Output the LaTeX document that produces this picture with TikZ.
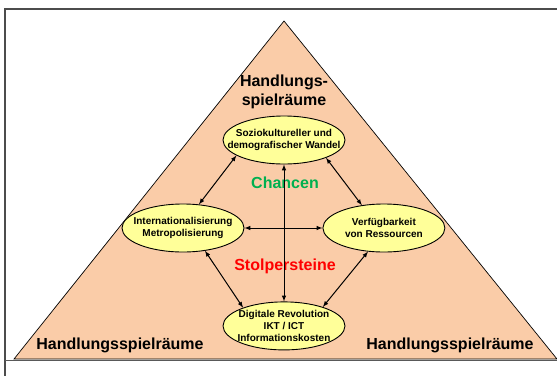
\documentclass[tikz,border=0pt]{standalone}
\usepackage{fontspec}
\setmainfont{Liberation Sans}
\usetikzlibrary{positioning, shapes.geometric}
\definecolor{peach}{RGB}{250,204,168}
\definecolor{paleyellow}{RGB}{255,255,153}
\definecolor{chancegreen}{RGB}{0,176,80}

\begin{document}
\begin{tikzpicture}[x=1pt, y=-1pt,
        field/.style={ellipse, draw, line width=0.9pt, fill=paleyellow, minimum width=122pt, minimum height=48pt, inner sep=0pt},
        fieldtext/.style={align=center, font=\fontsize{10}{12}\selectfont\bfseries, inner sep=0pt},
        big/.style={align=center, font=\fontsize{16}{19}\selectfont\bfseries},
        link/.style={latex-latex, line width=1pt}]
        \useasboundingbox (0,0) rectangle (557,376);
        \filldraw [fill=peach, line width=0.7pt] (14,359) -- (284,21) -- (557,359) -- cycle;
        \draw [gray!60!black, line width=1.3pt] (557,9) -- (5,9) -- (5,376);
        \draw [gray!70!black, line width=1pt] (5,360.5) -- (557,360.5);
        \node [field, label={[fieldtext]center:{Soziokultureller und\\demografischer Wandel}}] (wandel) at (284,140) {};
        \node [field, label={[fieldtext]center:{Internationalisierung\\Metropolisierung}}] (global) at (183,228) {};
        \node [field, right=78pt of global, label={[fieldtext]center:{Verfügbarkeit\\von Ressourcen}}] (ressourcen) {};
        \node [field, below=137pt of wandel, label={[fieldtext]center:{Digitale Revolution\\IKT / ICT\\Informationskosten}}] (digital) {};
        \node [big] (oben) at (284,92) {Handlungs-\\spielräume};
        \node [big, text=chancegreen] (chancen) at (285,183) {Chancen};
        \node [big, text=red] (stolper) at (285,266) {Stolpersteine};
        \node [big] (linksunten) at (120,345) {Handlungsspielräume};
        \node [big] (rechtsunten) at (450,345) {Handlungsspielräume};
        \draw [link] (wandel.198) -- (global.56);
        \draw [link] (wandel.337) -- (ressourcen.134);
        \draw [link] (wandel.south) -- (digital.north);
        \draw [link] (global.east) -- (ressourcen.west);
        \draw [link] (global.314) -- (digital.156);
        \draw [link] (ressourcen.236) -- (digital.26);
    \end{tikzpicture}
\end{document}
